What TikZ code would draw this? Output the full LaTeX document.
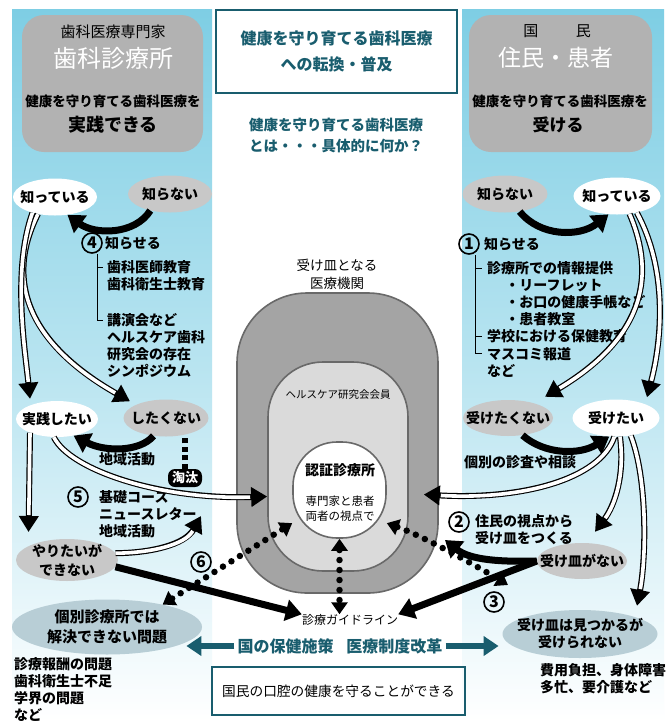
\documentclass[tikz,border=0pt]{standalone}
\usepackage{fontspec}
\setmainfont{Noto Sans CJK JP}
\usetikzlibrary{arrows.meta,shapes.geometric,calc}
\definecolor{teal1}{RGB}{25,93,110}
\definecolor{sky}{RGB}{126,206,228}
\definecolor{boxgray}{RGB}{178,178,178}
\definecolor{ellgray}{RGB}{200,200,200}
\definecolor{ellblue}{RGB}{184,206,214}
\definecolor{outergray}{RGB}{164,164,164}
\definecolor{midgray}{RGB}{218,218,218}
\definecolor{edgegray}{RGB}{105,105,105}
\newcommand{\fsz}[2]{\fontsize{#1}{#2}\selectfont}
\begin{document}
\begin{tikzpicture}[x=1pt,y=-1pt,
  every node/.style={inner sep=0pt},
  etxt/.style={font=\bfseries\fsz{14}{16}, align=center},
  ell/.style={ellipse, inner sep=0pt},
  gell/.style={ell, fill=ellgray},
  well/.style={ell, fill=white},
  bell/.style={ell, fill=ellblue},
  txt/.style={font=\bfseries\fsz{14}{17.2}, align=left, anchor=north west},
  num/.style={circle, draw, line width=1.6pt, minimum size=20pt, inner sep=0pt, font=\bfseries\fsz{16}{16}},
  barrow/.style={line width=7pt, -{Triangle[length=16pt,width=21pt]}},
  warrow/.style={line width=6pt, -{Triangle[length=16pt,width=19pt]}, postaction={draw=white, line width=3.6pt, shorten >=17pt, -}},
  dotarr/.style={line width=6.5pt, line cap=round, dash pattern=on 0pt off 10pt, {Triangle[length=12pt,width=16pt]}-{Triangle[length=12pt,width=16pt]}},
  tarrow/.style={draw=teal1, line width=6pt, -{Triangle[length=15pt,width=19pt]}},
]
\useasboundingbox (0,0) rectangle (672,721);
\fill[white] (0,0) rectangle (672,721);
% side panels
\shade[top color=sky, bottom color=white, middle color=sky!55!white] (12,9) rectangle (212,721);
\shade[top color=sky, bottom color=white, middle color=sky!55!white] (462,9) rectangle (664,721);

% top grey boxes
\node[fill=boxgray, rounded corners=22pt, minimum width=181pt, minimum height=137pt] (gL) at (112.5,83.5) {};
\node[font=\fsz{15}{15}] (gLa) at (113,32) {歯科医療専門家};
\node[font=\fsz{24}{24}, text=white] (gLb) at (113,58) {歯科診療所};
\node[font=\bfseries\fsz{13.5}{14}] (gLc) at (113,101) {健康を守り育てる歯科医療を};
\node[font=\bfseries\fsz{18}{18}] (gLd) at (113,125) {実践できる};

\node[fill=boxgray, rounded corners=22pt, minimum width=183pt, minimum height=137pt] (gR) at (560.5,83.5) {};
\node[font=\fsz{15}{15}] (gRa) at (557,31) {国\hspace{2.5em}民};
\node[font=\fsz{23}{23}, text=white] (gRb) at (556,58) {住民・患者};
\node[font=\bfseries\fsz{13.5}{14}] (gRc) at (560,101) {健康を守り育てる歯科医療を};
\node[font=\bfseries\fsz{17}{17}] (gRd) at (558,125) {受ける};

% title
\node[draw=teal1, line width=2pt, minimum width=241pt, minimum height=83pt, align=center, text=teal1, font=\bfseries\fsz{16}{26}] (title) at (336.5,51.5) {健康を守り育てる歯科医療\\への転換・普及};
\node[text=teal1, font=\bfseries\fsz{14.5}{21}, align=center] (q) at (336,135) {健康を守り育てる歯科医療\\とは・・・具体的に何か？};

% centre
\node[font=\fsz{13.5}{18}, align=center] (ukez) at (337,274) {受け皿となる\\医療機関};
\node[draw=edgegray, fill=outergray, line width=1.6pt, rounded corners=70pt, minimum width=201pt, minimum height=300pt] (outer) at (337.5,443) {};
\node[draw=edgegray, fill=midgray, line width=1.6pt, rounded corners=55pt, minimum width=140pt, minimum height=209pt] (mid) at (338,466.5) {};
\node[font=\fsz{10.5}{12}] (hc) at (338,395) {ヘルスケア研究会会員};
\node[draw=edgegray, fill=white, line width=1.6pt, rounded corners=44pt, minimum width=93pt, minimum height=96pt] (inner) at (339.5,490) {};
\node[font=\bfseries\fsz{14}{14}] (nin) at (340,470) {認証診療所};
\node[font=\fsz{11.5}{15}, align=center] (sen) at (340,509) {専門家と患者\\両者の視点で};
\node[font=\fsz{12}{12}] (gl) at (350,620) {診療ガイドライン};

% left column
\node[well, minimum width=84pt, minimum height=37pt, label={[etxt]center:知っている}] (kL1) at (55,197) {};
\node[gell, minimum width=84pt, minimum height=37pt, label={[etxt]center:知らない}] (kL2) at (170,194) {};
\node[num] (c4) at (92,243) {4};
\node[txt, anchor=west] (s4) at (105,243) {知らせる};
\node[txt] (t4a) at (107,260) {歯科医師教育\\歯科衛生士教育};
\node[txt] (t4b) at (107,313) {講演会など\\ヘルスケア歯科\\研究会の存在\\シンポジウム};
\draw[line width=1pt] (97,254) -- (97,320) -- (103,320);
\draw[line width=1pt] (97,267) -- (103,267);
\node[well, minimum width=82pt, minimum height=36pt, label={[etxt]center:実践したい}] (jL) at (57,419) {};
\node[gell, minimum width=85pt, minimum height=37pt, label={[etxt]center:したくない}] (nL) at (166,418) {};
\node[txt, anchor=center] (chiL) at (127,459) {地域活動};
\node[fill=black, text=white, rounded corners=7pt, minimum width=34pt, minimum height=18pt, font=\bfseries\fsz{13}{13}] (tota) at (185,478) {淘汰};
\node[num] (c5) at (78,497) {5};
\node[txt] (t5) at (99,490) {基礎コース\\ニュースレター\\地域活動};
\node[gell, minimum width=102pt, minimum height=42pt, label={[etxt, font=\bfseries\fsz{14}{19}]center:やりたいが\\できない}] (yL) at (67,560) {};
\node[num] (c6) at (201,562) {6};
\node[bell, minimum width=190pt, minimum height=55pt, label={[etxt, font=\bfseries\fsz{15}{20}]center:個別診療所では\\解決できない問題}] (kb) at (107,627) {};
\node[txt] (t7) at (14,657) {診療報酬の問題\\歯科衛生士不足\\学界の問題\\など};

% right column
\node[gell, minimum width=85pt, minimum height=37pt, label={[etxt]center:知らない}] (kR2) at (505,194) {};
\node[well, minimum width=87pt, minimum height=37pt, label={[etxt]center:知っている}] (kR) at (617,196) {};
\node[num] (c1) at (469,244) {1};
\node[txt, anchor=west] (s1) at (484,244) {知らせる};
\node[txt] (t1) at (487,261) {診療所での情報提供\\\hspace{1.3em}・リーフレット\\\hspace{1.3em}・お口の健康手帳など\\\hspace{1.3em}・患者教室\\学校における保健教育\\マスコミ報道\\など};
\draw[line width=1pt] (475,255) -- (475,353) -- (482,353);
\draw[line width=1pt] (475,268) -- (482,268);
\draw[line width=1pt] (475,336) -- (482,336);
\node[gell, minimum width=90pt, minimum height=36pt, label={[etxt]center:受けたくない}] (nR) at (508,418) {};
\node[well, minimum width=87pt, minimum height=37pt, label={[etxt]center:受けたい}] (uL) at (616,418) {};
\node[txt, anchor=center] (kobetsu) at (520,462) {個別の診査や相談};
\node[num] (c2) at (459,522) {2};
\node[txt] (t2) at (475,514) {住民の視点から\\受け皿をつくる};
\node[gell, minimum width=90pt, minimum height=36pt, label={[etxt]center:受け皿がない}] (ug) at (582,561) {};
\node[num] (c3) at (494,602) {3};
\node[bell, minimum width=155pt, minimum height=48pt, label={[etxt, font=\bfseries\fsz{14}{17}]center:受け皿は見つかるが\\受けられない}] (um) at (580,634) {};
\node[txt] (t8) at (540,663) {費用負担、身体障害\\多忙、要介護など};

% bottom
\node[text=teal1, font=\bfseries\fsz{16}{16}] (pol) at (340,646) {国の保健施策\hspace{0.8em}医療制度改革};
\node[draw=teal1, line width=2pt, minimum width=253pt, minimum height=48pt, font=\fsz{13.7}{15}] (goal) at (338.5,691) {国民の口腔の健康を守ることができる};

% ---- connectors ----
% left
\draw[barrow] (kL2.-140) .. controls (135,235) and (95,235) .. (kL1.-55);
\draw[warrow] (kL1.-135) .. controls (0,290) and (40,350) .. ($(nL.north)+(-36,2)$);
\draw[warrow] (kL1.-145) .. controls (12,270) and (25,350) .. ($(jL.north)+(-27,-2)$);
\draw[barrow] (nL.-125) .. controls (140,452) and (105,452) .. (jL.-45);
\draw[line width=5.5pt, dash pattern=on 5pt off 3.5pt] (tota.north) -- (tota.north |- nL.south);
\draw[warrow] (jL.-100) .. controls (70,470) and (160,500) .. ($(mid.west)+(0,30)$);
\draw[warrow] (jL.-153) -- ($(yL.160)+(0,-14)$);
\draw[warrow] (yL.8) .. controls (150,553) and (185,545) .. ($(c6)+(0,-46)$);
\draw[barrow] (yL.-8) -- (gl.north west);
\draw[dotarr] (kb.22) -- (inner.-145);
\draw[dotarr] (inner.south) -- (inner.south |- gl.north);
\draw[dotarr] (inner.-35) .. controls (420,535) and (470,562) .. ($(c3)+(14,-17)$);
% right
\draw[barrow] (kR2.-50) .. controls (540,237) and (580,237) .. (kR.-115);
\draw[warrow] (kR.-55) .. controls (658,280) and (640,340) .. ($(nR.north)+(37,-3)$);
\draw[warrow] (kR.-40) .. controls (668,270) and (662,340) .. ($(uL.north)+(31,-2)$);
\draw[barrow] (nR.-50) .. controls (545,455) and (580,455) .. (uL.-110);
\draw[warrow] (uL.-95) .. controls (600,480) and (520,500) .. ($(mid.east)+(15,28)$);
\draw[warrow] (uL.-78) .. controls (625,475) and (615,505) .. ($(ug.north)+(13,-11)$);
\draw[warrow] (uL.-50) .. controls (648,480) and (646,560) .. ($(um.north)+(57,-4)$);
\draw[barrow] (ug.west) .. controls (500,562) and (470,560) .. ($(c2)+(-14,18)$);
\draw[barrow] (ug.west) -- (gl.north east);
% policy arrows
\draw[tarrow] ($(pol.west)+(-3,0)$) -- ($(pol.west)+(-51,0)$);
\draw[tarrow] ($(pol.east)+(3,0)$) -- ($(pol.east)+(56,0)$);
\end{tikzpicture}
\end{document}
